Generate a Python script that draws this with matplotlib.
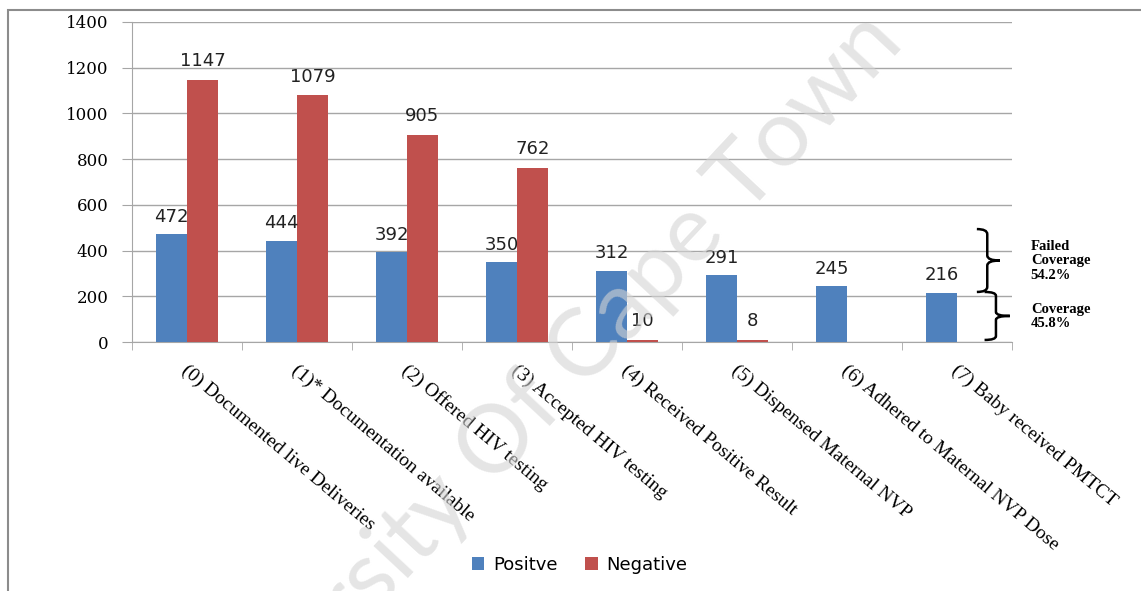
import numpy as np
import matplotlib.pyplot as plt
import matplotlib.transforms as mtransforms
from matplotlib.path import Path
from matplotlib.patches import PathPatch, Rectangle

categories = ['(0) Documented live Deliveries',
              '(1)* Documentation available',
              '(2) Offered HIV testing',
              '(3) Accepted HIV testing',
              '(4) Received Positive Result',
              '(5) Dispensed Maternal NVP',
              '(6) Adhered to Maternal NVP Dose',
              '(7) Baby received PMTCT']
positive = [472, 444, 392, 350, 312, 291, 245, 216]
negative = [1147, 1079, 905, 762, 10, 8, np.nan, np.nan]
yticks = [0, 200, 400, 600, 800, 1000, 1200, 1400]

BLUE = '#4F81BD'
RED = '#C0504D'
GRID = '#a6a6a6'


def brace(ax, x0, x1, y0, y1):
    # curly brace "}" from y0 to y1, hooks at x0, tip at x1
    xm = x0 + (x1 - x0) * 0.45
    ym = (y0 + y1) / 2.0
    d = (y1 - y0) * 0.08
    verts = [(x0, y1), (xm, y1), (xm, y1 - d),
             (xm, ym + d), (xm, ym), (x1, ym),
             (xm, ym), (xm, ym - d),
             (xm, y0 + d), (xm, y0), (x0, y0)]
    codes = [Path.MOVETO, Path.CURVE3, Path.CURVE3,
             Path.LINETO, Path.CURVE3, Path.CURVE3,
             Path.CURVE3, Path.CURVE3,
             Path.LINETO, Path.CURVE3, Path.CURVE3]
    ax.add_patch(PathPatch(Path(verts, codes), facecolor='none',
                           edgecolor='black', lw=1.8, clip_on=False))


def main():
    fig = plt.figure(figsize=(11.41, 5.91), dpi=100)
    ax = fig.add_axes([0.1157, 0.4213, 0.7713, 0.5415])

    # outer frame
    fig.patches.append(Rectangle((8 / 1141, -0.1), 1.2, 1 - 10 / 591 + 0.1,
                                 transform=fig.transFigure, fill=False,
                                 edgecolor='#8c8c8c', lw=1.5))

    x = np.arange(len(categories))
    w = 0.28
    b1 = ax.bar(x - w / 2, positive, w, color=BLUE, label='Positve', zorder=3)
    b2 = ax.bar(x + w / 2, negative, w, color=RED, label='Negative', zorder=3)

    ax.bar_label(b1, labels=[str(v) for v in positive], padding=6,
                 fontsize=13, color='#222222')
    ax.bar_label(b2, labels=['' if np.isnan(v) else str(int(v)) for v in negative],
                 padding=7, fontsize=13, color='#222222')

    ax.set_xlim(-0.5, len(categories) - 0.5)
    ax.set_ylim(0, 1400)
    ax.set_yticks(yticks)
    ax.set_yticklabels([str(v) for v in yticks], family='DejaVu Serif', fontsize=12)
    ax.yaxis.grid(True, color=GRID, lw=1)
    ax.set_axisbelow(True)
    ax.tick_params(axis='y', length=7, color=GRID, pad=10)

    ax.set_xticks(x)
    ax.set_xticklabels(categories, rotation=-40, ha='left', va='top',
                       family='Liberation Serif', fontsize=14)
    ax.tick_params(axis='x', which='major', length=0, pad=14)
    ax.set_xticks(np.arange(-0.5, len(categories)), minor=True)
    ax.tick_params(axis='x', which='minor', length=6, color=GRID)
    shift = mtransforms.ScaledTranslation(-9 / 100, 0, fig.dpi_scale_trans)
    for lab in ax.get_xticklabels():
        lab.set_transform(lab.get_transform() + shift)

    for s in ['top', 'right']:
        ax.spines[s].set_visible(False)
    ax.spines['left'].set_color(GRID)
    ax.spines['bottom'].set_color(GRID)

    # coverage braces
    brace(ax, 7.18, 7.39, 219, 494)
    brace(ax, 7.25, 7.48, 9, 219)
    ax.text(7.67, 356, 'Failed\nCoverage\n54.2%', fontsize=10.5, fontweight='bold',
            family='Liberation Serif', va='center', ha='left', linespacing=1.15,
            clip_on=False)
    ax.text(7.67, 112, 'Coverage\n45.8%', fontsize=10.5, fontweight='bold',
            family='Liberation Serif', va='center', ha='left', linespacing=1.15,
            clip_on=False)

    fig.legend(loc='center', bbox_to_anchor=(0.508, 0.044), ncol=2, frameon=False,
               fontsize=13, handlelength=0.7, handleheight=0.7, columnspacing=1.5,
               handletextpad=0.5)

    # watermark
    fig.text(0.462, 0.302, 'University Of Cape Town', fontsize=68, family='Lato',
             color='#d4d4d4', alpha=0.6, rotation=47, ha='center', va='center',
             zorder=10)

    fig.savefig('out.png', dpi=100)


if __name__ == '__main__':
    main()
